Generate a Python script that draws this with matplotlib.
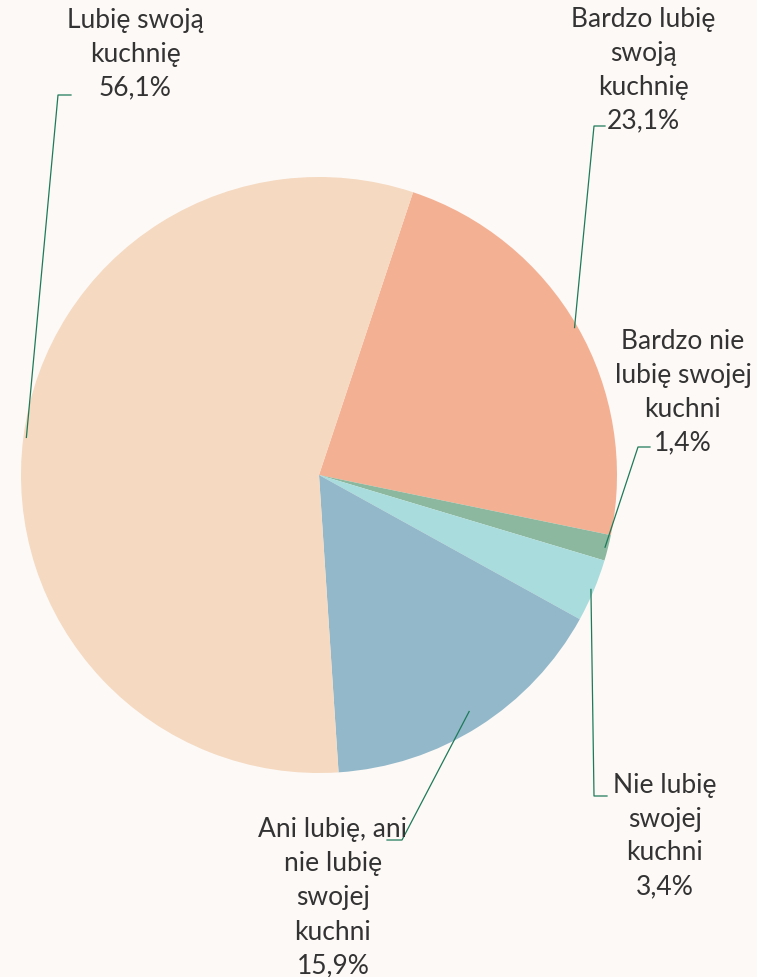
import numpy as np
import matplotlib.pyplot as plt

labels = ["Bardzo lubię\nswoją\nkuchnię", "Bardzo nie\nlubię swojej\nkuchni",
          "Nie lubię\nswojej\nkuchni", "Ani lubię, ani\nnie lubię\nswojej\nkuchni",
          "Lubię swoją\nkuchnię"]
values = [23.1, 1.4, 3.4, 15.9, 56.1]
colors = ["#F4B093", "#8DB8A0", "#A9DCDC", "#92B8CA", "#F5D9C0"]

bg = "#FDF9F6"
W, H = 757, 977
cx, cy, R = 319, 475, 298


def p2d(px, py):
    # pixel position -> data coords (pie radius = 1)
    return (px - cx) / R, (cy - py) / R


fig = plt.figure(figsize=(W / 100, H / 100), dpi=100, facecolor=bg)
ax = fig.add_axes([0, 0, 1, 1])
ax.set_facecolor(bg)
wedges, _ = ax.pie(values, colors=colors, startangle=71.6, counterclock=False,
                   radius=1, wedgeprops=dict(linewidth=0))
ax.set_xlim(p2d(0, 0)[0], p2d(W, 0)[0])
ax.set_ylim(p2d(0, H)[1], p2d(0, 0)[1])
ax.set_aspect("equal")
ax.axis("off")

# label centre, elbow, line end (pixels), anchor radius
layout = [
    ((643, 70), (594, 126), (605, 126), 0.99),
    ((683, 392), (638, 447), (650, 447), 0.99),
    ((665, 836), (594, 796), (607, 796), 0.99),
    ((333, 898), (402, 840), (387, 840), 0.94),
    ((135, 54), (58, 95), (71, 95), 0.99),
]

for w, lab, v, (tc, el, en, r) in zip(wedges, labels, values, layout):
    ang = np.deg2rad((w.theta1 + w.theta2) / 2)
    ax0, ay0 = r * np.cos(ang), r * np.sin(ang)
    ex, ey = p2d(*el)
    nx, ny = p2d(*en)
    ax.plot([ax0, ex, nx], [ay0, ey, ny], color="#1E7A5A", lw=0.9, zorder=3)
    tx, ty = p2d(*tc)
    txt = lab + "\n" + ("%.1f%%" % v).replace(".", ",")
    ax.text(tx, ty, txt, ha="center", va="center", fontsize=19, family="Lato",
            color="#333333", linespacing=1.45, zorder=4)

fig.savefig("out.png", dpi=100, facecolor=bg)
